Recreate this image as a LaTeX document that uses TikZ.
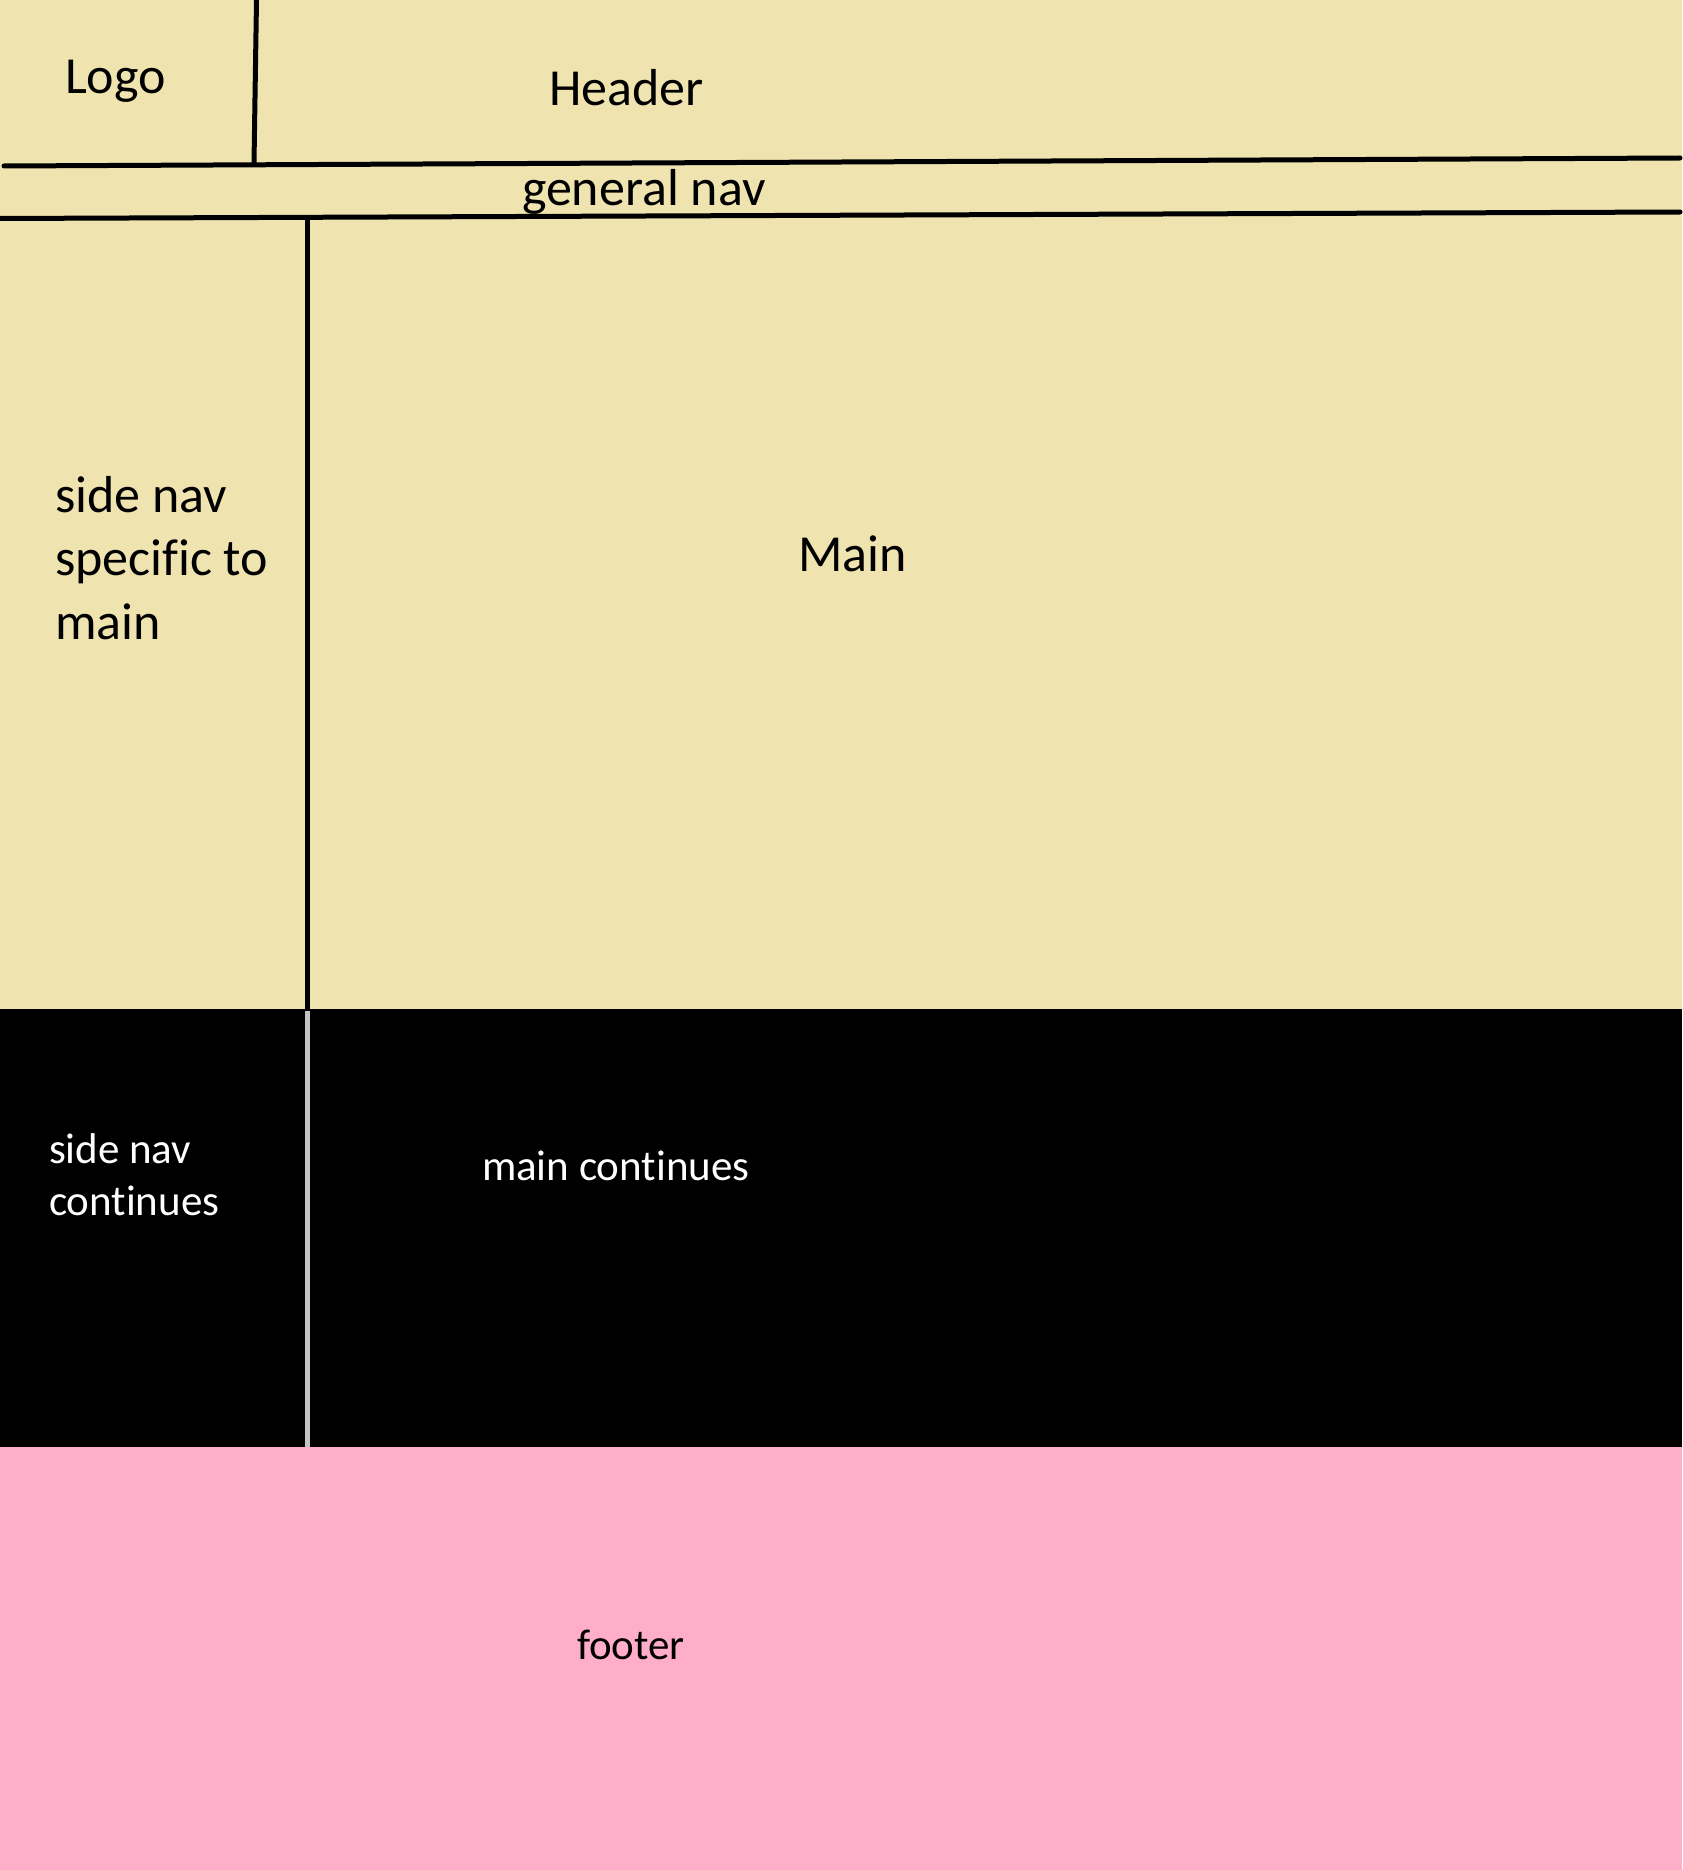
\documentclass[tikz,border=0pt]{standalone}
\usepackage{fontspec}
\setmainfont[Ligatures={NoCommon}]{Carlito}
\definecolor{beige}{RGB}{239,228,176}
\definecolor{pinkfoot}{RGB}{255,174,201}
\definecolor{grayline}{RGB}{195,195,195}
\begin{document}
\begin{tikzpicture}[x=1pt,y=-1pt,
  lbl/.style={inner sep=0pt,outer sep=0pt,anchor=base west,font=\fontsize{52}{63.5}\selectfont},
  lblw/.style={inner sep=0pt,outer sep=0pt,anchor=base west,font=\fontsize{43}{52.5}\selectfont,text=white},
  lblf/.style={inner sep=0pt,outer sep=0pt,anchor=base west,font=\fontsize{43}{52.5}\selectfont},
  rule/.style={line width=5pt,black},
  grule/.style={line width=5pt,grayline}]
\useasboundingbox (0,0) rectangle (1682,1870);
\fill[beige] (0,0) rectangle (1682,1009);
\fill[black] (0,1009) rectangle (1682,1447);
\fill[pinkfoot] (0,1447) rectangle (1682,1870);
% rules
\coordinate (l1a) at (4,166); \coordinate (l1b) at (1680,158);
\coordinate (l2a) at (0,218.5); \coordinate (l2b) at (1680,212);
\coordinate (lgt) at (256.5,0); \coordinate (lgb) at (254,163);
\coordinate (svt) at (307.5,217); \coordinate (svb) at (307.5,1009);
\coordinate (gvt) at (307.5,1011); \coordinate (gvb) at (307.5,1447);
\draw[rule,line cap=round] (l1a) -- (l1b);
\draw[rule,line cap=round] (l2a) -- (l2b);
\draw[rule] (lgt) -- (lgb);
\draw[rule] (svt) -- (svb);
\draw[grule] (gvt) -- (gvb);
% labels
\node[lbl] (logo) at (65,94) {Logo};
\node[lbl] (header) at (549,106) {Header};
\node[lbl] (gnav) at (522,206) {general nav};
\node[lbl] (snav1) at (55,512) {side nav};
\node[lbl] (snav2) at (55,575) {specific to};
\node[lbl] (snav3) at (55,639) {main};
\node[lbl] (main) at (798,571) {Main};
\node[lblw] (snc1) at (49,1163) {side nav};
\node[lblw] (snc2) at (49,1215) {continues};
\node[lblw] (mc) at (482,1180) {main continues};
\node[lblf] (footer) at (577,1659) {footer};
\end{tikzpicture}
\end{document}
